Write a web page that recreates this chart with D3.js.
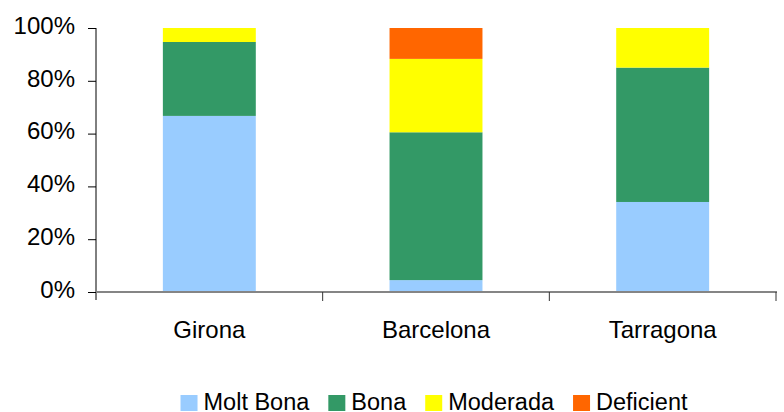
<!DOCTYPE html>
<html>
<head>
<meta charset="utf-8">
<script src="https://cdn.jsdelivr.net/npm/d3@7"></script>
<style>
  body { margin: 0; background: #fff; }
  svg text { font-family: "Liberation Sans", Arial, sans-serif; fill: #000; }
</style>
</head>
<body>
<svg id="chart" width="784" height="412"></svg>
<script>
// chart data
const provinces = ["Girona", "Barcelona", "Tarragona"];
const qualities = ["Molt Bona", "Bona", "Moderada", "Deficient"];
const moltBona  = [66.7, 4.5, 34.1];
const bona      = [28.0, 56.0, 50.9];
const moderada  = [5.3, 27.8, 15.0];
const deficient = [0, 11.7, 0];
const yTicks = [0, 20, 40, 60, 80, 100];
const colors = ["#99ccff", "#339966", "#ffff00", "#ff6600"];

let rows = provinces.map((p, i) => ({
    province: p,
    "Molt Bona": moltBona[i],
    "Bona": bona[i],
    "Moderada": moderada[i],
    "Deficient": deficient[i]
}));

let svg = d3.select("#chart");

let x = d3.scaleBand()
    .domain(provinces)
    .range([96, 776])
    .paddingInner(0.59)
    .paddingOuter(0.295);

let y = d3.scaleLinear().domain([0, 100]).range([292, 28]);

let color = d3.scaleOrdinal().domain(qualities).range(colors);

let stacked = d3.stack().keys(qualities)(rows);

// bars
svg.append("g")
  .selectAll("g")
  .data(stacked)
  .join("g")
    .attr("fill", d => color(d.key))
  .selectAll("rect")
  .data(d => d)
  .join("rect")
    .attr("x", d => x(d.data.province))
    .attr("y", d => y(d[1]))
    .attr("width", x.bandwidth())
    .attr("height", d => y(d[0]) - y(d[1]));

// y axis
let yAxis = svg.append("g")
    .attr("transform", "translate(96,0)")
    .call(d3.axisLeft(y).tickValues(yTicks).tickFormat(d => d + "%").tickSize(8).tickPadding(13));
yAxis.select(".domain").attr("stroke", "#000").attr("d", "M0,28V300");
yAxis.selectAll(".tick line").attr("stroke", "#000");
yAxis.selectAll(".tick text")
    .attr("font-size", "24px")
    .attr("dy", "0.22em");

// x axis: ticks at category boundaries
let xAxisG = svg.append("g");
xAxisG.append("line")
    .attr("x1", 96).attr("x2", 777)
    .attr("y1", 292).attr("y2", 292)
    .attr("stroke", "#858585")
    .attr("stroke-width", 2);

let step = x.step();
let bounds = provinces.map((p, i) => x.range()[0] + step * (i + 1));
xAxisG.selectAll(".bt")
  .data(bounds)
  .join("line")
    .attr("x1", d => d).attr("x2", d => d)
    .attr("y1", 292).attr("y2", 301)
    .attr("stroke", "#333");

xAxisG.selectAll(".cat")
  .data(provinces)
  .join("text")
    .attr("x", d => x(d) + x.bandwidth() / 2)
    .attr("y", 338)
    .attr("text-anchor", "middle")
    .attr("font-size", "24px")
    .text(d => d);

// legend
let legend = svg.append("g");
let items = legend.selectAll("g")
  .data(qualities)
  .join("g");
items.append("rect")
    .attr("width", 17).attr("height", 16)
    .attr("y", 395)
    .attr("fill", d => color(d));
items.append("text")
    .attr("x", 23)
    .attr("y", 410)
    .attr("font-size", "23.5px")
    .text(d => d);

let pos = 0;
let widths = [];
items.each(function () {
    widths.push(23 + this.querySelector("text").getComputedTextLength());
});
let gap = 19;
let total = d3.sum(widths) + gap * (widths.length - 1);
let startX = 434 - total / 2;
items.attr("transform", (d, i) => {
    let t = "translate(" + (startX + pos) + ",0)";
    pos += widths[i] + gap;
    return t;
});
</script>
</body>
</html>
